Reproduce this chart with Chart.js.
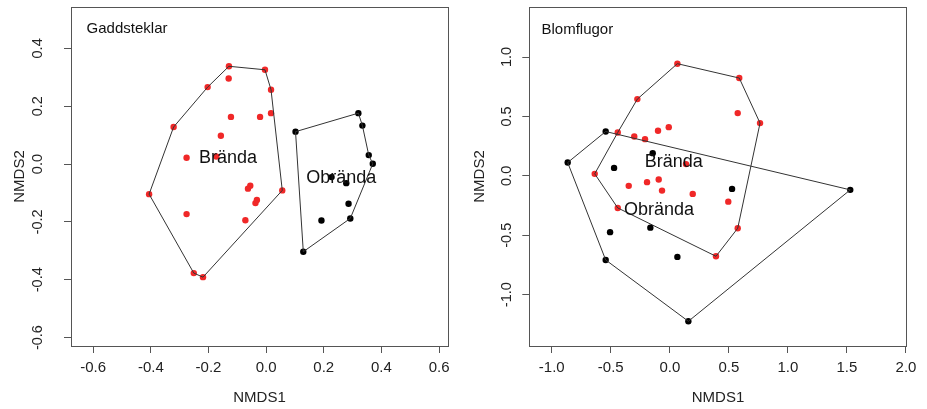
<!DOCTYPE html>
<html>
<head>
<meta charset="utf-8">
<script src="https://cdn.jsdelivr.net/npm/chart.js@4.4.1/dist/chart.umd.min.js"></script>
<style>
  html, body { margin: 0; padding: 0; background: #fff; }
  #wrap { position: relative; width: 927px; height: 409px; }
  canvas { position: absolute; top: 0; }
</style>
</head>
<body>
<div id="wrap">
  <canvas id="gadd" width="463" height="409" style="left:0"></canvas>
  <canvas id="blom" width="464" height="409" style="left:463px"></canvas>
</div>
<script>
// Gaddsteklar: NMDS scores, hull vertices listed first
const gaddBrandaX = [-0.129, -0.004, 0.017, 0.056, -0.219, -0.251, -0.406, -0.321, -0.203,
  -0.130, -0.122, -0.021, 0.017, -0.157, -0.276, -0.173, -0.055, -0.063, -0.032, -0.037, -0.276, -0.072];
const gaddBrandaY = [0.338, 0.326, 0.257, -0.091, -0.391, -0.377, -0.104, 0.128, 0.266,
  0.296, 0.163, 0.163, 0.176, 0.098, 0.022, 0.026, -0.075, -0.085, -0.124, -0.135, -0.173, -0.194];
const gaddBrandaHull = [0, 1, 2, 3, 4, 5, 6, 7, 8];

const gaddObrandaX = [0.102, 0.320, 0.334, 0.356, 0.370, 0.292, 0.129, 0.227, 0.278, 0.286, 0.192];
const gaddObrandaY = [0.112, 0.176, 0.133, 0.031, 0.001, -0.188, -0.303, -0.045, -0.066, -0.137, -0.195];
const gaddObrandaHull = [0, 1, 2, 3, 4, 5, 6];

const gaddLabelText = ["Brända", "Obrända"];
const gaddLabelX = [-0.132, 0.261];
const gaddLabelY = [0.022, -0.048];

// Blomflugor
const blomBrandaX = [0.064, 0.588, 0.764, 0.575, 0.391, -0.441, -0.636, -0.441, -0.275,
  0.575, -0.301, -0.210, -0.100, -0.009, 0.137, -0.348, -0.193, -0.094, -0.066, 0.194, 0.495];
const blomBrandaY = [0.944, 0.823, 0.444, -0.441, -0.677, -0.270, 0.017, 0.365, 0.646,
  0.528, 0.331, 0.309, 0.379, 0.410, 0.099, -0.084, -0.053, -0.031, -0.124, -0.152, -0.217];
const blomBrandaHull = [0, 1, 2, 3, 4, 5, 6, 7, 8];

const blomObrandaX = [-0.543, 1.528, 0.157, -0.543, -0.865, -0.145, -0.472, 0.527, -0.506, -0.165, 0.064];
const blomObrandaY = [0.373, -0.118, -1.224, -0.708, 0.112, 0.191, 0.067, -0.110, -0.474, -0.436, -0.682];
const blomObrandaHull = [0, 1, 2, 3, 4];

const blomLabelText = ["Brända", "Obrända"];
const blomLabelX = [0.034, -0.091];
const blomLabelY = [0.120, -0.286];

const gaddXTicks = [-0.6, -0.4, -0.2, 0.0, 0.2, 0.4, 0.6];
const gaddYTicks = [-0.6, -0.4, -0.2, 0.0, 0.2, 0.4];
const blomXTicks = [-1.0, -0.5, 0.0, 0.5, 1.0, 1.5, 2.0];
const blomYTicks = [-1.0, -0.5, 0.0, 0.5, 1.0];

const FONT = "'Liberation Sans', Arial, sans-serif";
const RED = "#f02828";
const INK = "#222";

const panelDecor = {
  id: "panelDecor",
  beforeDatasetsDraw(chart, args, opts) {
    const { ctx, chartArea: a } = chart;
    ctx.save();
    ctx.strokeStyle = "#555";
    ctx.lineWidth = 1;
    ctx.strokeRect(Math.round(a.left) + 0.5, Math.round(a.top) + 0.5,
      Math.round(a.right - a.left), Math.round(a.bottom - a.top));
    ctx.restore();
  },
  afterDatasetsDraw(chart, args, opts) {
    const { ctx, chartArea: a, scales } = chart;
    ctx.save();
    ctx.fillStyle = "#111";
    ctx.textBaseline = "middle";
    // panel title
    ctx.font = "15px " + FONT;
    ctx.textAlign = "left";
    ctx.fillText(opts.title, a.left + opts.titleDx, a.top + opts.titleDy);
    // group labels at centroids
    ctx.font = "18px " + FONT;
    ctx.textAlign = "center";
    opts.labels.forEach((t, i) => {
      ctx.fillText(t, scales.x.getPixelForValue(opts.labelX[i]), scales.y.getPixelForValue(opts.labelY[i]));
    });
    // rotated y tick labels (R style, las = 0)
    ctx.fillStyle = INK;
    ctx.font = "14.5px " + FONT;
    scales.y.ticks.forEach(t => {
      ctx.save();
      ctx.translate(opts.yLabelX, scales.y.getPixelForValue(t.value));
      ctx.rotate(-Math.PI / 2);
      ctx.fillText(t.value.toFixed(1), 0, 0);
      ctx.restore();
    });
    ctx.restore();
  }
};

function groupSets(xs, ys, hull, color) {
  const pts = xs.map((x, i) => ({ x, y: ys[i] }));
  return [
    {
      data: hull.concat(hull[0]).map(i => pts[i]),
      showLine: true, borderColor: "#333", borderWidth: 1,
      pointRadius: 0, fill: false, tension: 0
    },
    {
      data: pts, pointRadius: 3.2, pointBorderWidth: 0,
      pointBackgroundColor: color, showLine: false
    }
  ];
}

function makePanel(id, p) {
  const canvas = document.getElementById(id);
  const tickFont = { family: FONT, size: 15 };
  const titleFont = { family: FONT, size: 15 };
  new Chart(canvas, {
    type: "scatter",
    data: {
      datasets: [
        ...groupSets(p.obX, p.obY, p.obHull, "#000"),
        ...groupSets(p.brX, p.brY, p.brHull, RED)
      ]
    },
    options: {
      responsive: false,
      animation: false,
      events: [],
      layout: { padding: { left: 0, right: canvas.width - p.plotRight, top: 7, bottom: 0 } },
      plugins: {
        legend: { display: false },
        tooltip: { enabled: false },
        panelDecor: {
          title: p.title, titleDx: p.titleDx, titleDy: p.titleDy,
          labels: p.labels, labelX: p.labelX, labelY: p.labelY,
          yLabelX: p.yLabelX
        }
      },
      scales: {
        x: {
          type: "linear", position: "bottom",
          min: p.xMin, max: p.xMax,
          afterBuildTicks: s => { s.ticks = p.xTicks.map(v => ({ value: v })); },
          afterFit: s => { s.height = 409 - 346; },
          ticks: {
            callback: v => Number(v).toFixed(1),
            font: tickFont, color: INK, padding: 6,
            maxRotation: 0, minRotation: 0, autoSkip: false
          },
          grid: { drawOnChartArea: false, drawTicks: true, tickLength: 7, color: "#555", lineWidth: 1 },
          border: { display: false },
          title: { display: true, text: "NMDS1", font: titleFont, color: INK, padding: { top: 0, bottom: 2 } }
        },
        y: {
          type: "linear", position: "left",
          min: p.yMin, max: p.yMax,
          afterBuildTicks: s => { s.ticks = p.yTicks.map(v => ({ value: v })); },
          afterFit: s => { s.width = p.plotLeft; },
          ticks: { display: false },
          grid: { drawOnChartArea: false, drawTicks: true, tickLength: 7, color: "#555", lineWidth: 1 },
          border: { display: false },
          title: { display: true, text: "NMDS2", font: titleFont, color: INK, padding: { top: p.yTitlePad, bottom: 0 } }
        }
      }
    },
    plugins: [panelDecor]
  });
}

makePanel("gadd", {
  title: "Gaddsteklar", titleDx: 15.6, titleDy: 22,
  brX: gaddBrandaX, brY: gaddBrandaY, brHull: gaddBrandaHull,
  obX: gaddObrandaX, obY: gaddObrandaY, obHull: gaddObrandaHull,
  labels: gaddLabelText, labelX: gaddLabelX, labelY: gaddLabelY,
  xTicks: gaddXTicks, yTicks: gaddYTicks,
  xMin: -0.677, xMax: 0.631, yMin: -0.629, yMax: 0.543,
  plotLeft: 71, plotRight: 448, yLabelX: 38.3, yTitlePad: 11.3
});

makePanel("blom", {
  title: "Blomflugor", titleDx: 12.2, titleDy: 23,
  brX: blomBrandaX, brY: blomBrandaY, brHull: blomBrandaHull,
  obX: blomObrandaX, obY: blomObrandaY, obHull: blomObrandaHull,
  labels: blomLabelText, labelX: blomLabelX, labelY: blomLabelY,
  xTicks: blomXTicks, yTicks: blomYTicks,
  xMin: -1.190, xMax: 2.006, yMin: -1.432, yMax: 1.421,
  plotLeft: 66.3, plotRight: 443.7, yLabelX: 43.7, yTitlePad: 8.3
});
</script>
</body>
</html>
